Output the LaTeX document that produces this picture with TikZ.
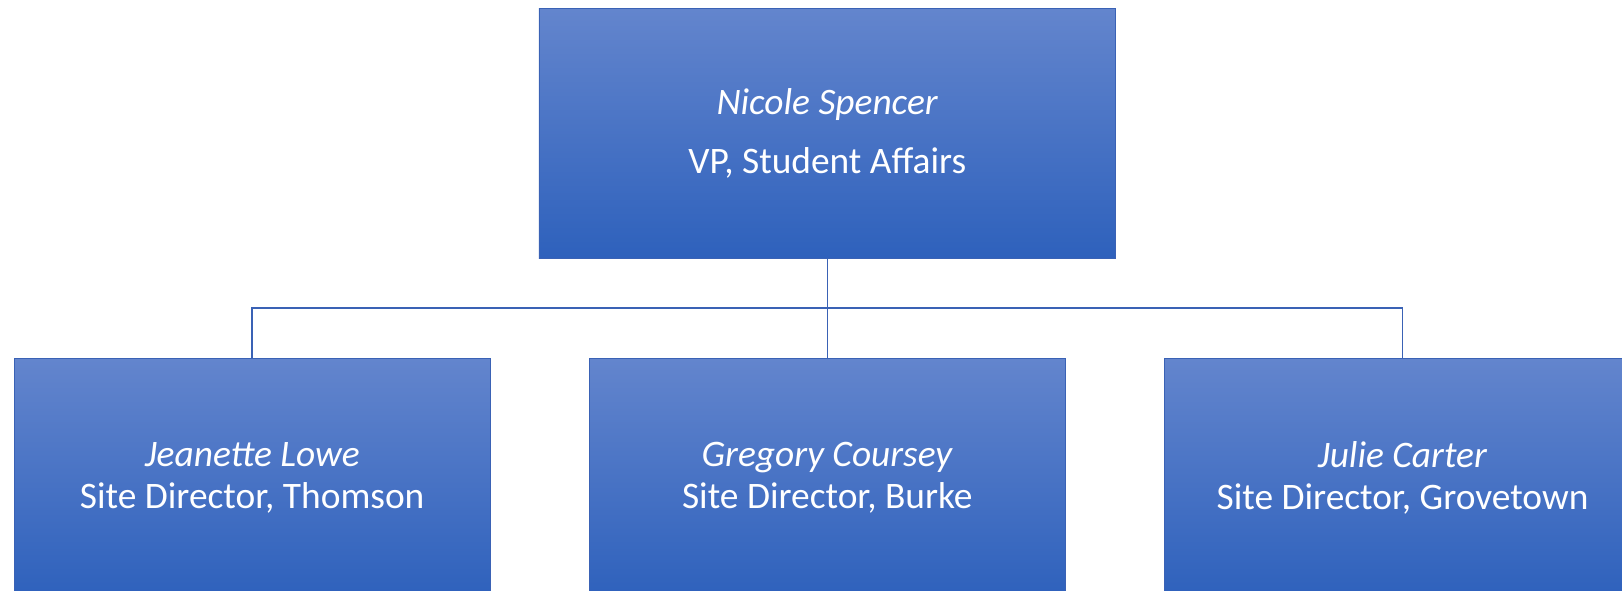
\documentclass[tikz,border=0pt]{standalone}
\usepackage{fontspec}
\setmainfont{Carlito}
\definecolor{boxtop}{RGB}{99,133,205}
\definecolor{boxbot}{RGB}{46,97,188}
\definecolor{linec}{RGB}{58,98,181}
\begin{document}
\begin{tikzpicture}[x=1pt,y=-1pt,
  orgbox/.style={rectangle, draw=linec, line width=0.6pt, top color=boxtop, bottom color=boxbot,
    text=white, align=center, inner sep=0pt, outer sep=0pt},
  topbox/.style={orgbox, minimum width=576.7pt, minimum height=249.7pt,
    font=\fontsize{37.4}{59}\selectfont},
  subbox/.style={orgbox, minimum width=475.5pt, minimum height=240pt,
    font=\fontsize{37.4}{42}\selectfont},
  conn/.style={draw=linec, line width=1.6pt}]
\useasboundingbox (0,0) rectangle (1622,590);
\clip (0,0) rectangle (1622,590);
\node[topbox] (top) at (827.3,133.5) {\textit{Nicole Spencer}\\VP, Student Affairs};
\node[subbox] (b1) at (252.2,478) {\textit{Jeanette Lowe}\\Site Director, Thomson};
\node[subbox] (b2) at (827.3,478) {\textit{Gregory Coursey}\\Site Director, Burke};
\node[subbox] (b3) at (1402.5,478) {\textit{Julie Carter}\\Site Director, Grovetown};
\coordinate (j) at (827.3,308);
\draw[conn] (top.south) -- (j);
\draw[conn] (j) -| (b1.north);
\draw[conn] (j) -| (b3.north);
\draw[conn] (j) -- (b2.north);
\end{tikzpicture}
\end{document}
